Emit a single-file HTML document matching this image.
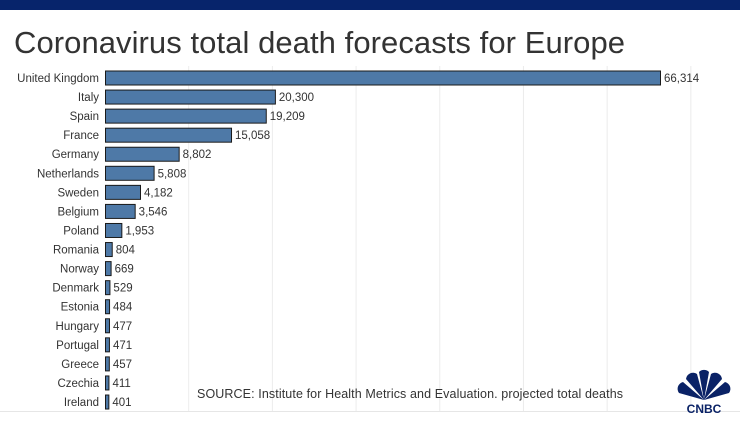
<!DOCTYPE html>
<html><head><meta charset="utf-8"><style>
body{margin:0;width:740px;height:416px;overflow:hidden;background:#fff;font-family:"Liberation Sans",sans-serif;}
</style></head><body>
<svg width="740" height="416" xmlns="http://www.w3.org/2000/svg">
<rect x="0" y="0" width="740" height="10" fill="#07246b"/>
<text x="14" y="53" font-size="31" textLength="611" fill="#333">Coronavirus total death forecasts for Europe</text>
<g id="grid"></g>
<g id="bars"></g>
<line x1="0" y1="411.5" x2="740" y2="411.5" stroke="#e6e6e6"/>
<text x="197" y="398" font-size="12.5" textLength="426" fill="#333">SOURCE: Institute for Health Metrics and Evaluation. projected total deaths</text>
<g transform="translate(704,400)">
<path d="M0,0 L-25,-7 A7,7 0 0 1 -21,-18 Z M0,0 L-18,-21 A7,7 0 0 1 -7,-26 Z M0,0 L-5,-28 A7,7 0 0 1 5,-28 Z M0,0 L7,-26 A7,7 0 0 1 18,-21 Z M0,0 L21,-18 A7,7 0 0 1 25,-7 Z" fill="#0a2266"/>
<text x="0" y="13" font-size="12" font-weight="bold" text-anchor="middle" fill="#0a2266">CNBC</text>
</g>
</svg>
<script>
const countries=["United Kingdom","Italy","Spain","France","Germany","Netherlands","Sweden","Belgium","Poland","Romania","Norway","Denmark","Estonia","Hungary","Portugal","Greece","Czechia","Ireland"];
const deaths=[66314,20300,19209,15058,8802,5808,4182,3546,1953,804,669,529,484,477,471,457,411,401];
const gridTicks=[0,10000,20000,30000,40000,50000,60000,70000];
const NS="http://www.w3.org/2000/svg";
const x0=105, k=555/66314, y0=78, step=19.06, bh=14;
const xs=v=>x0+v*k, ys=i=>y0+i*step;
const grid=document.getElementById('grid'), bars=document.getElementById('bars');
gridTicks.forEach(t=>{
 if(t===0)return;
 const l=document.createElementNS(NS,'line');
 
 
 l.setAttribute('x1',xs(t));l.setAttribute('x2',xs(t));l.setAttribute('y1',66);l.setAttribute('y2',411);
 l.setAttribute('stroke','#ececec');grid.appendChild(l);
});
countries.forEach((c,i)=>{
 const y=ys(i);
 const lab=document.createElementNS(NS,'text');
 
 
 lab.setAttribute('x',99);lab.setAttribute('y',y+4);lab.setAttribute('text-anchor','end');
 lab.setAttribute('font-size','11.5');lab.setAttribute('fill','#333');lab.textContent=c;bars.appendChild(lab);
 const r=document.createElementNS(NS,'rect');
 
 
 r.setAttribute('x',x0+0.5);r.setAttribute('y',y-bh/2);r.setAttribute('width',Math.max(xs(deaths[i])-x0,2));r.setAttribute('height',bh);
 r.setAttribute('fill','#4e79a7');r.setAttribute('stroke','#1a1a1a');r.setAttribute('stroke-width','1');bars.appendChild(r);
 const v=document.createElementNS(NS,'text');
 
 
 v.setAttribute('x',xs(deaths[i])+4);v.setAttribute('y',y+4);v.setAttribute('font-size','11.5');v.setAttribute('fill','#333');
 v.textContent=deaths[i].toLocaleString('en-US');bars.appendChild(v);
});
</script>
</body></html>
